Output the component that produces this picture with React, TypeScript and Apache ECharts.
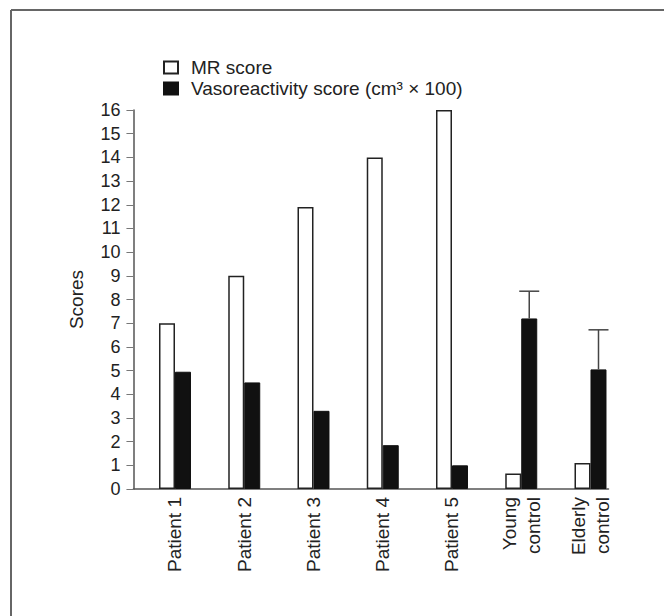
import React, { useEffect, useRef } from "react";
import * as echarts from "echarts";

const categories = ["Patient 1", "Patient 2", "Patient 3", "Patient 4", "Patient 5", "Young\ncontrol", "Elderly\ncontrol"];
const mrScore = [7, 9, 11.9, 14, 16, 0.65, 1.1];
const vasoScore = [4.95, 4.5, 3.3, 1.85, 1.0, 7.2, 5.05];
const vasoErrorTop = [null, null, null, null, null, 8.35, 6.72];
const yTicks = { min: 0, max: 16, interval: 1 };

const FONT = "Liberation Sans, Arial, Helvetica, sans-serif";
const STEP = 5;
const OFFSET = 3;
const pos = (i: number) => i * STEP + OFFSET;

export default function App() {
  const ref = useRef<HTMLDivElement>(null);
  useEffect(() => {
    if (!ref.current) return;
    const chart = echarts.init(ref.current, null, { renderer: "svg" });
    const errData = vasoErrorTop
      .map((hi, i) => (hi == null ? null : [pos(i), vasoScore[i], hi]))
      .filter((d) => d != null);
    chart.setOption({
      animation: false,
      backgroundColor: "#fff",
      textStyle: { fontFamily: FONT },
      graphic: [
        { type: "line", shape: { x1: 11, y1: 10, x2: 664, y2: 10 }, style: { stroke: "#666", lineWidth: 2 } },
        { type: "line", shape: { x1: 11, y1: 10, x2: 11, y2: 616 }, style: { stroke: "#666", lineWidth: 2 } },
      ],
      legend: {
        orient: "vertical",
        left: 163,
        top: 57,
        padding: 0,
        itemWidth: 14,
        itemHeight: 12,
        itemGap: 0,
        textStyle: { fontFamily: FONT, fontSize: 19, lineHeight: 21, color: "#222", padding: [0, 0, 0, 8] },
        data: [
          { name: "MR score", icon: "rect" },
          { name: "Vasoreactivity score (cm³ × 100)", icon: "rect" },
        ],
      },
      grid: { left: 133.45, right: 55.5, top: 110, bottom: 127, containLabel: false },
      xAxis: {
        type: "value",
        min: 0,
        max: 34.3,
        interval: 1,
        axisLine: { show: true, onZero: false, lineStyle: { color: "#555", width: 1.5 } },
        axisTick: { show: false },
        splitLine: { show: false },
        axisLabel: {
          rotate: 90,
          margin: 8,
          fontFamily: FONT,
          fontSize: 19,
          color: "#222",
          lineHeight: 24,
          formatter: (v: number) => {
            const k = Math.round(v);
            if (Math.abs(v - k) > 1e-6) return "";
            if ((k - OFFSET) % STEP !== 0) return "";
            const i = (k - OFFSET) / STEP;
            return categories[i] ?? "";
          },
        },
      },
      yAxis: {
        type: "value",
        min: yTicks.min,
        max: yTicks.max,
        interval: yTicks.interval,
        name: "Scores",
        nameLocation: "middle",
        nameGap: 47,
        nameTextStyle: { fontFamily: FONT, fontSize: 19, color: "#222" },
        axisLine: { show: true, lineStyle: { color: "#555", width: 1.5 } },
        axisTick: { show: true, length: 7, lineStyle: { color: "#777", width: 1 } },
        splitLine: { show: false },
        axisLabel: { margin: 13, fontFamily: FONT, fontSize: 18, color: "#222" },
      },
      series: [
        {
          name: "MR score",
          type: "bar",
          barWidth: 16,
          barGap: "0%",
          itemStyle: { color: "#fff", borderColor: "#222", borderWidth: 1.5 },
          data: mrScore.map((v, i) => [pos(i), v]),
        },
        {
          name: "Vasoreactivity score (cm³ × 100)",
          type: "bar",
          barWidth: 16,
          barGap: "0%",
          itemStyle: { color: "#111", borderColor: "#111", borderWidth: 1 },
          data: vasoScore.map((v, i) => [pos(i), v]),
        },
        {
          type: "custom",
          z: 5,
          data: errData,
          renderItem: (params: any, api: any) => {
            const x = api.value(0);
            const p0 = api.coord([x, api.value(1)]);
            const p1 = api.coord([x, api.value(2)]);
            const cx = p0[0] + 8;
            return {
              type: "group",
              children: [
                { type: "line", shape: { x1: cx, y1: p0[1], x2: cx, y2: p1[1] }, style: { stroke: "#444", lineWidth: 1.5 } },
                { type: "line", shape: { x1: cx - 10, y1: p1[1], x2: cx + 10, y2: p1[1] }, style: { stroke: "#444", lineWidth: 1.5 } },
              ],
            };
          },
        },
      ],
    });
    return () => chart.dispose();
  }, []);
  return <div ref={ref} style={{ position: "fixed", left: 0, top: 0, width: 664, height: 616 }} />;
}
